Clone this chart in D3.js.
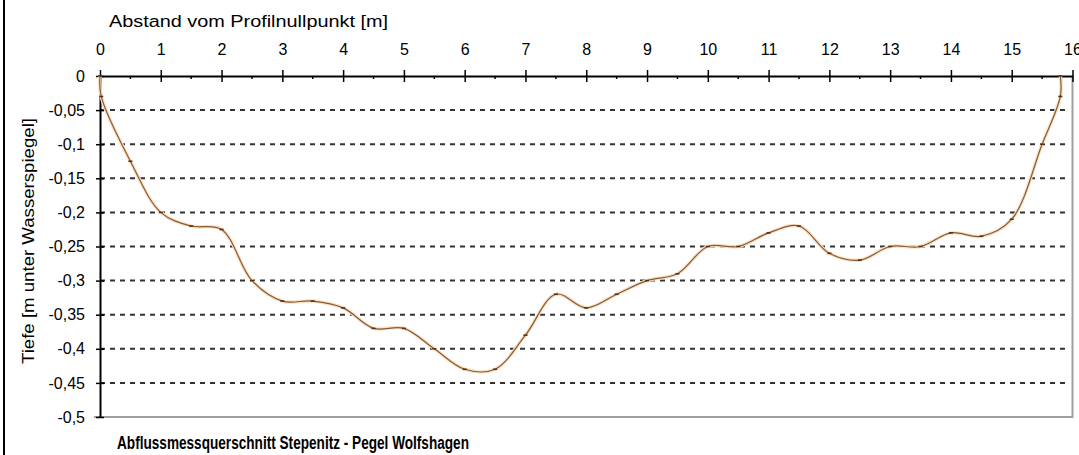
<!DOCTYPE html>
<html>
<head>
<meta charset="utf-8">
<script src="https://cdn.jsdelivr.net/npm/d3@7"></script>
<style>
  body { margin: 0; background: #fff; }
  text { font-family: "Liberation Sans", Arial, sans-serif; fill: #000; }
</style>
</head>
<body>
<svg id="chart" width="1079" height="455"></svg>
<script>
// Messpunkte des Querprofils (Abstand [m], Tiefe [m])
const distance = [0, 0.02, 0.5, 1, 1.5, 2, 2.5, 3, 3.5, 4, 4.5, 5, 5.5, 6, 6.5, 7, 7.5, 8, 8.5, 9, 9.5,
  10, 10.5, 11, 11.5, 12, 12.5, 13, 13.5, 14, 14.5, 15, 15.5, 15.8, 15.8];
const depth = [0, -0.03, -0.125, -0.2, -0.22, -0.225, -0.3, -0.33, -0.33, -0.34, -0.37, -0.37, -0.4, -0.43, -0.43,
  -0.38, -0.32, -0.34, -0.32, -0.3, -0.29, -0.25, -0.25, -0.23, -0.22, -0.26, -0.27, -0.25, -0.25,
  -0.23, -0.235, -0.21, -0.1, -0.03, 0];

const xTicks = [0, 1, 2, 3, 4, 5, 6, 7, 8, 9, 10, 11, 12, 13, 14, 15, 16];
const xMinorTicks = [0.5, 1.5, 2.5, 3.5, 4.5, 5.5, 6.5, 7.5, 8.5, 9.5, 10.5, 11.5, 12.5, 13.5, 14.5, 15.5];
const yTicks = [0, -0.05, -0.1, -0.15, -0.2, -0.25, -0.3, -0.35, -0.4, -0.45, -0.5];

const svg = d3.select("#chart");

const x = d3.scaleLinear().domain([0, 16]).range([100, 1072.5]);
const y = d3.scaleLinear().domain([0, -0.5]).range([76, 417]);

const fmt = d => d === 0 ? "0" : String(+d.toFixed(2)).replace(".", ",");

// linker Rahmen
svg.append("line")
  .attr("x1", 4).attr("x2", 4).attr("y1", 0).attr("y2", 455)
  .attr("stroke", "#000").attr("stroke-width", 2);

// Gitternetz gestrichelt
svg.append("g")
  .selectAll("line")
  .data(yTicks.slice(1, -1))
  .join("line")
  .attr("x1", x(0)).attr("x2", 1067)
  .attr("y1", d => y(d)).attr("y2", d => y(d))
  .attr("stroke", "#333").attr("stroke-width", 2)
  .attr("stroke-dasharray", "5,5");

// rechter und unterer Rand der Zeichenfläche
svg.append("path")
  .attr("d", `M${x(16)},${y(0)}V${y(-0.5)}H${x(0) - 6}`)
  .attr("fill", "none").attr("stroke", "#a0a0a0").attr("stroke-width", 2);

// x-Achse oben
const xAxis = svg.append("g")
  .attr("transform", `translate(0,${y(0)})`)
  .call(d3.axisTop(x).tickValues(xTicks).tickSize(6).tickSizeOuter(0).tickPadding(15).tickFormat(d3.format("d")));
xAxis.select(".domain").attr("stroke-width", 2);
xAxis.selectAll(".tick line").attr("y1", 6).attr("stroke-width", 1.5);
xAxis.selectAll(".tick text").attr("font-size", 16);

svg.append("g")
  .selectAll("line")
  .data(xMinorTicks)
  .join("line")
  .attr("x1", d => x(d)).attr("x2", d => x(d))
  .attr("y1", y(0)).attr("y2", y(0) + 3)
  .attr("stroke", "#000").attr("stroke-width", 1.5);

// y-Achse links
const yAxis = svg.append("g")
  .attr("transform", `translate(${x(0)},0)`)
  .call(d3.axisLeft(y).tickValues(yTicks).tickSize(4).tickSizeOuter(0).tickPadding(11).tickFormat(fmt));
yAxis.select(".domain").attr("stroke-width", 2);
yAxis.selectAll(".tick line").attr("x1", 4).attr("stroke-width", 1.5);
yAxis.selectAll(".tick text").attr("font-size", 16);

// Profillinie
const line = d3.line()
  .x((d, i) => x(distance[i]))
  .y(d => y(d))
  .curve(d3.curveCatmullRom.alpha(0.5));

svg.append("path")
  .datum(depth)
  .attr("d", line)
  .attr("fill", "none").attr("stroke", "#f8e0c6").attr("stroke-width", 3.5);

svg.append("path")
  .datum(depth)
  .attr("d", line)
  .attr("fill", "none").attr("stroke", "#8a5a32").attr("stroke-width", 1.2);

svg.append("g")
  .selectAll("line")
  .data(depth)
  .join("line")
  .attr("x1", (d, i) => x(distance[i]) - 2).attr("x2", (d, i) => x(distance[i]) + 2)
  .attr("y1", d => y(d)).attr("y2", d => y(d))
  .attr("stroke", "#5a2e12").attr("stroke-width", 1.6);

// Beschriftungen
svg.append("text")
  .attr("x", 109).attr("y", 27)
  .attr("font-size", 16)
  .attr("textLength", 279).attr("lengthAdjust", "spacingAndGlyphs")
  .text("Abstand vom Profilnullpunkt [m]");

svg.append("text")
  .attr("transform", "translate(34,241) rotate(-90)")
  .attr("text-anchor", "middle")
  .attr("font-size", 16)
  .attr("textLength", 246).attr("lengthAdjust", "spacingAndGlyphs")
  .text("Tiefe [m unter Wasserspiegel]");

svg.append("text")
  .attr("x", 117).attr("y", 449)
  .attr("font-size", 18).attr("font-weight", "bold")
  .attr("textLength", 352).attr("lengthAdjust", "spacingAndGlyphs")
  .text("Abflussmessquerschnitt Stepenitz - Pegel Wolfshagen");
</script>
</body>
</html>
